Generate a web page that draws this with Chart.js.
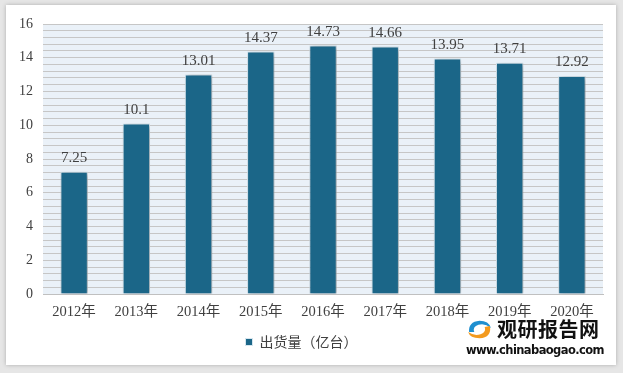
<!DOCTYPE html>
<html><head><meta charset="utf-8">
<script src="https://cdn.jsdelivr.net/npm/chart.js@4"></script>
<style>
html,body{margin:0;padding:0;background:#e6e6e6;width:623px;height:373px;overflow:hidden}
#frame{position:absolute;left:6px;top:5px;width:610px;height:360px;background:#fff;box-shadow:0 0 4px rgba(0,0,0,0.25)}
#wrap{position:absolute;left:0;top:0;width:623px;height:373px}
#wm1{position:absolute;left:497px;top:316px;font:bold 20px "Noto Sans CJK SC";color:#111;line-height:26px;letter-spacing:0.5px}
#wm2{position:absolute;left:466px;top:343px;font:bold 11.5px "DejaVu Sans";color:#111;line-height:15px;letter-spacing:-0.6px}
#logo{position:absolute;left:466px;top:317px;width:27px;height:24px}
</style></head>
<body>
<div id="frame"></div>
<div id="wrap"><canvas id="c" width="623" height="373"></canvas></div>
<svg id="logo" viewBox="0 0 26 22"><path d="M3 14 Q2 4 13 3 Q22 3 24 10 Q18 5 12 7 Q6 9 8 14 Z" fill="#1e8fd0"/><path d="M23 8 Q25 19 13 20 Q4 20 2 14 Q8 18 14 16 Q20 14 18 9 Z" fill="#f39a1e"/></svg>
<div id="wm1">观研报告网</div>
<div id="wm2">www.chinabaogao.com</div>
<script>
const categories = ["2012年","2013年","2014年","2015年","2016年","2017年","2018年","2019年","2020年"];
const shipments = [7.25, 10.1, 13.01, 14.37, 14.73, 14.66, 13.95, 13.71, 12.92];
const valueLabels = ["7.25","10.1","13.01","14.37","14.73","14.66","13.95","13.71","12.92"];
const seriesName = "出货量（亿台）";

const bgPlugin = {
  id:'bg',
  beforeDraw(chart){
    const {ctx, chartArea:a} = chart;
    ctx.save(); ctx.fillStyle = '#eaf1f8';
    ctx.fillRect(a.left, a.top, a.right-a.left, a.bottom-a.top);
    ctx.restore();
  },
  beforeDatasetsDraw(chart){
    const ctx = chart.ctx; ctx.save();
    ctx.shadowColor = 'rgba(0,0,0,0.35)'; ctx.shadowBlur = 5; ctx.shadowOffsetX = 2; ctx.shadowOffsetY = 1;
  },
  afterDatasetsDraw(chart){
    chart.ctx.restore();
    const ctx = chart.ctx; ctx.save();
    ctx.font = '15px "Liberation Serif", "Noto Sans CJK SC"';
    ctx.fillStyle = '#404040'; ctx.textAlign = 'center'; ctx.textBaseline = 'bottom';
    chart.getDatasetMeta(0).data.forEach((el,i)=>{ ctx.fillText(valueLabels[i], el.x, el.y - 6); });
    ctx.restore();
  }
};

new Chart(document.getElementById('c'), {
  type:'bar',
  data:{ labels:categories, datasets:[{ label:seriesName, data:shipments, backgroundColor:'#1b6688', borderColor:'#d6e6ef', borderWidth:1, barPercentage:0.44, categoryPercentage:1 }]},
  options:{
    responsive:false, animation:false,
    layout:{padding:{left:0,right:20,top:24,bottom:14}},
    plugins:{
      tooltip:{enabled:false},
      legend:{position:'bottom', labels:{boxWidth:7, boxHeight:7, color:'#404040', font:{size:14, family:'"Noto Sans CJK SC"'}, padding:10}}
    },
    scales:{
      x:{
        grid:{display:false, drawTicks:false},
        border:{color:'#c0c0c0'},
        ticks:{color:'#404040', padding:9, font:{size:14.5, family:'"Liberation Serif", "Noto Sans CJK SC"'}},
        afterFit(s){ s.height = 31; }
      },
      y:{
        min:0, max:16,
        grid:{color:'#c6c6c6', drawTicks:false},
        border:{display:false},
        ticks:{stepSize:0.4, autoSkip:false, padding:10, color:'#404040', font:{size:14, family:'"Liberation Serif"'},
          callback(v){ const r = Math.round(v); return (Math.abs(v-r)<1e-6 && r%2===0) ? String(r) : ''; }},
        afterFit(s){ s.width = 43; }
      }
    }
  },
  plugins:[bgPlugin]
});
</script>
</body></html>
